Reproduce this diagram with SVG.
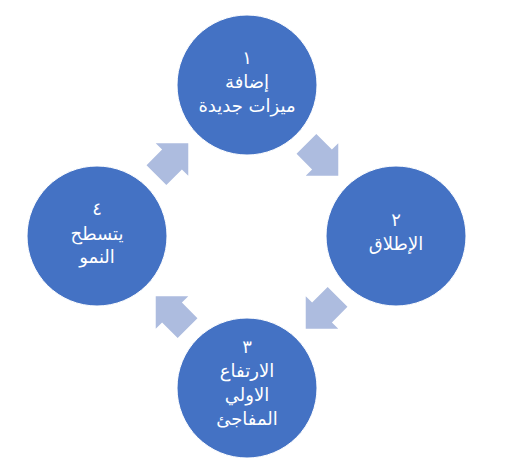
<svg xmlns="http://www.w3.org/2000/svg" width="512" height="470" viewBox="0 0 512 470">
<defs>
<style>
.node circle{fill:#4472C4;stroke:#ffffff;stroke-width:1}
.node text{fill:#ffffff;font-family:"DejaVu Sans",sans-serif;font-size:18px;text-anchor:middle}
.arrow{fill:#ADBCDF}
</style>
<polygon id="arr" points="-22,-14 0,-14 0,-23 23,0 0,23 0,14 -22,14"/>
</defs>
<rect width="512" height="470" fill="#ffffff"/>
<g id="connectors">
<use href="#arr" class="arrow" transform="translate(172,159.5) rotate(-45)"/>
<use href="#arr" class="arrow" transform="translate(322,159.5) rotate(45)"/>
<use href="#arr" class="arrow" transform="translate(322,312.5) rotate(135)"/>
<use href="#arr" class="arrow" transform="translate(172,312.5) rotate(-135)"/>
</g>
<g id="node1" class="node">
<circle cx="247" cy="85" r="70"/>
<text x="247" y="64">١</text>
<text x="247" y="88">إضافة</text>
<text x="247" y="112">ميزات جديدة</text>
</g>
<g id="node2" class="node">
<circle cx="396" cy="236" r="70"/>
<text x="396" y="226">٢</text>
<text x="396" y="250">الإطلاق</text>
</g>
<g id="node3" class="node">
<circle cx="247" cy="388" r="70"/>
<text x="247" y="353">٣</text>
<text x="247" y="377">الارتفاع</text>
<text x="247" y="401">الاولي</text>
<text x="247" y="425">المفاجئ</text>
</g>
<g id="node4" class="node">
<circle cx="97" cy="236" r="70"/>
<text x="97" y="215">٤</text>
<text x="97" y="240">يتسطح</text>
<text x="97" y="263">النمو</text>
</g>
</svg>
